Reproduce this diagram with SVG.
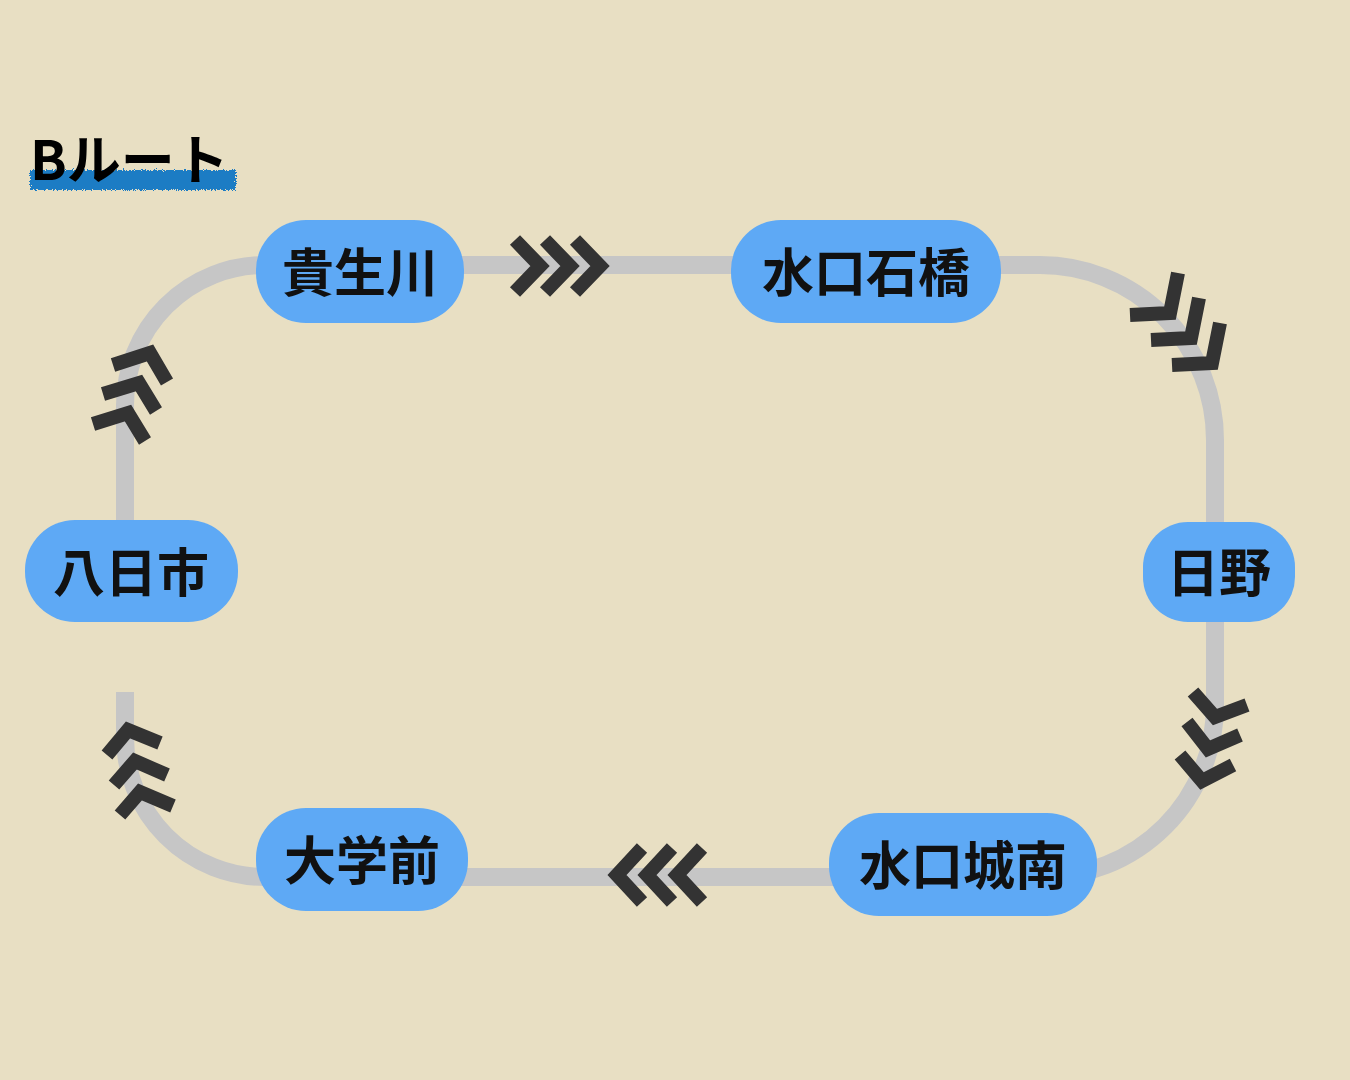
<svg xmlns="http://www.w3.org/2000/svg" width="1350" height="1080" viewBox="0 0 1350 1080">
<defs>
<filter id="rough" x="-10%" y="-50%" width="120%" height="200%">
<feTurbulence type="fractalNoise" baseFrequency="0.9" numOctaves="2" result="n"/>
<feDisplacementMap in="SourceGraphic" in2="n" scale="6"/>
</filter>
<style>
.node rect{fill:#5ea9f5}
.node text{font-family:"Noto Sans CJK JP","Noto Sans",sans-serif;font-weight:700;font-size:52px;fill:#111;text-anchor:middle}
.track{fill:none;stroke:#c6c6c6;stroke-width:18}
.chev{fill:none;stroke:#333;stroke-width:14;stroke-linejoin:miter}
</style>
</defs>
<rect width="1350" height="1080" fill="#e8dfc3"/>
<g id="title">
<rect x="30" y="170" width="206" height="20" fill="#1a7cc4" filter="url(#rough)"/>
<text x="30" y="180" font-family="Noto Sans CJK JP,sans-serif" font-weight="700" font-size="54" fill="#000">Bルート</text>
</g>
<g id="connectors">
<path class="track" d="M125,520 V405 A140,140 0 0 1 265,265 H1040 A175,175 0 0 1 1215,440 V705 A172,172 0 0 1 1043,877 H265 A140,140 0 0 1 125,737 V692"/>
<polyline class="chev" points="515,240 540,266 515,292"/>
<polyline class="chev" points="545,240 570,266 545,292"/>
<polyline class="chev" points="575,240 600,266 575,292"/>
<polyline class="chev" points="1178,273 1170,313 1130,315"/>
<polyline class="chev" points="1199,298 1191,338 1151,340"/>
<polyline class="chev" points="1220,323 1212,363 1172,365"/>
<polyline class="chev" points="1193,692 1215,717 1247,705"/>
<polyline class="chev" points="1187,722 1208,749 1240,735"/>
<polyline class="chev" points="1180,755 1202,781 1233,765"/>
<polyline class="chev" points="113,365 150,353 167,382"/>
<polyline class="chev" points="103,394 139,383 156,411"/>
<polyline class="chev" points="93,424 128,413 145,441"/>
<polyline class="chev" points="107,755 128,730 160,743"/>
<polyline class="chev" points="114,785 135,761 167,775"/>
<polyline class="chev" points="120,815 140,792 173,806"/>
<polyline class="chev" points="642,848 617,875 642,902"/>
<polyline class="chev" points="672,848 647,875 672,902"/>
<polyline class="chev" points="702,848 677,875 702,902"/>
</g>
<g id="n1" class="node"><rect x="256" y="220" width="208" height="103" rx="50"/><text x="360" y="292">貴生川</text></g>
<g id="n2" class="node"><rect x="731" y="220" width="270" height="103" rx="50"/><text x="866" y="292">水口石橋</text></g>
<g id="n3" class="node"><rect x="1143" y="522" width="152" height="100" rx="45"/><text x="1219" y="592">日野</text></g>
<g id="n4" class="node"><rect x="829" y="813" width="268" height="103" rx="50"/><text x="963" y="885">水口城南</text></g>
<g id="n5" class="node"><rect x="256" y="808" width="212" height="103" rx="50"/><text x="362" y="880">大学前</text></g>
<g id="n6" class="node"><rect x="25" y="520" width="213" height="102" rx="50"/><text x="131" y="592">八日市</text></g>
</svg>
